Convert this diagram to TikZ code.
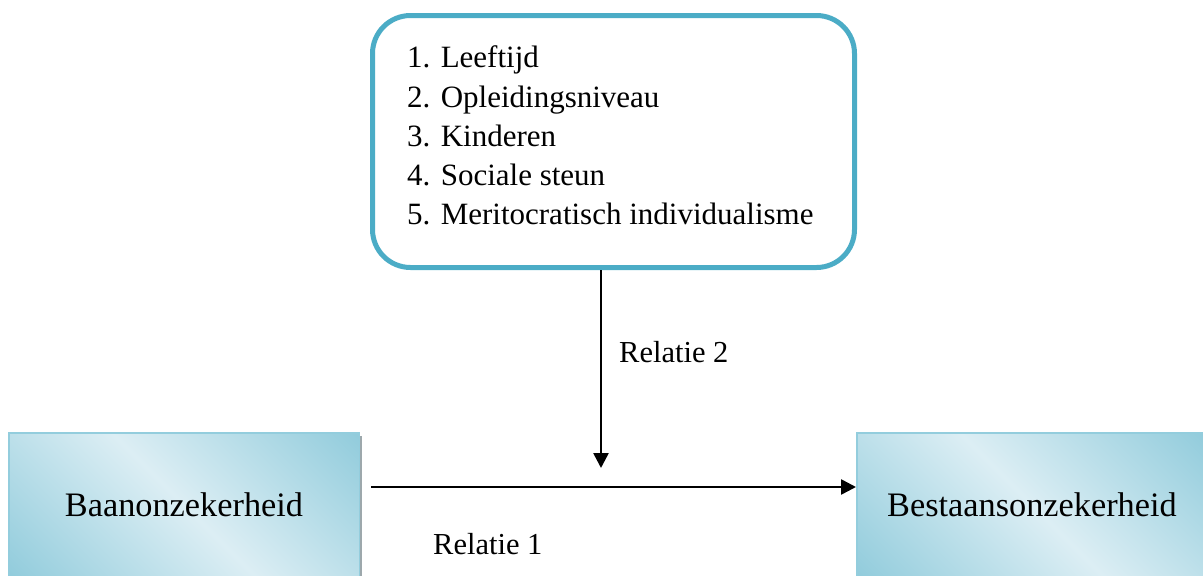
\documentclass[tikz,border=0pt]{standalone}
\usepackage{fontspec}
\setmainfont{Liberation Serif}
\usetikzlibrary{arrows.meta,shadows}
\definecolor{framec}{HTML}{4BACC6}
\definecolor{lightc}{HTML}{DCEEF4}
\definecolor{darkc}{HTML}{92CCDC}
\definecolor{edgec}{HTML}{93CDDD}
\definecolor{shadowc}{HTML}{9DA8AC}
\pgfdeclarehorizontalshading{boxgrad}{100bp}{color(0bp)=(darkc); color(15bp)=(darkc); color(50bp)=(lightc); color(85bp)=(darkc); color(100bp)=(darkc)}
\tikzset{
  modbox/.style={draw=framec, line width=5pt, rounded corners=38pt, fill=white,
    minimum width=482pt, minimum height=252pt, inner sep=0pt},
  varbox/.style={draw=edgec, line width=1.5pt, shading=boxgrad, shading angle=45,
    minimum width=350.5pt, minimum height=144.5pt, inner sep=0pt,
    font=\fontsize{34.3}{40}\selectfont,
    drop shadow={shadow xshift=3pt, shadow yshift=-3pt, fill=shadowc, opacity=1}},
  listitem/.style={anchor=base west, inner sep=0pt, font=\fontsize{31}{38}\selectfont},
  lbl/.style={anchor=base west, inner sep=0pt, font=\fontsize{30.5}{38}\selectfont},
  arr/.style={line width=2.6pt, -{Triangle[length=15pt,width=15pt]}}
}
\begin{document}
\begin{tikzpicture}[x=1pt,y=-1pt]
\useasboundingbox (0,0) rectangle (1203,576);
\clip (0,0) rectangle (1203,576);
\node[modbox] (mod) at (613.5,141.5) {};
\foreach \t [count=\i] in {Leeftijd,Opleidingsniveau,Kinderen,Sociale steun,Meritocratisch individualisme}
  \node[listitem] (l\i) at (407,{67.7+39.3*(\i-1)}) {\i. \t};
\node[varbox] (baan) at (184,505) {Baanonzekerheid};
\node[varbox] (best) at (1032,505) {Bestaansonzekerheid};
\coordinate (vend) at (601,468);
\coordinate (hstart) at (371,487);
\draw[arr] (mod.south -| vend) -- (vend);
\draw[arr] (hstart) -- (hstart -| best.west);
\node[lbl] (r2) at (619,362) {Relatie 2};
\node[lbl] (r1) at (433,554) {Relatie 1};
\end{tikzpicture}
\end{document}
